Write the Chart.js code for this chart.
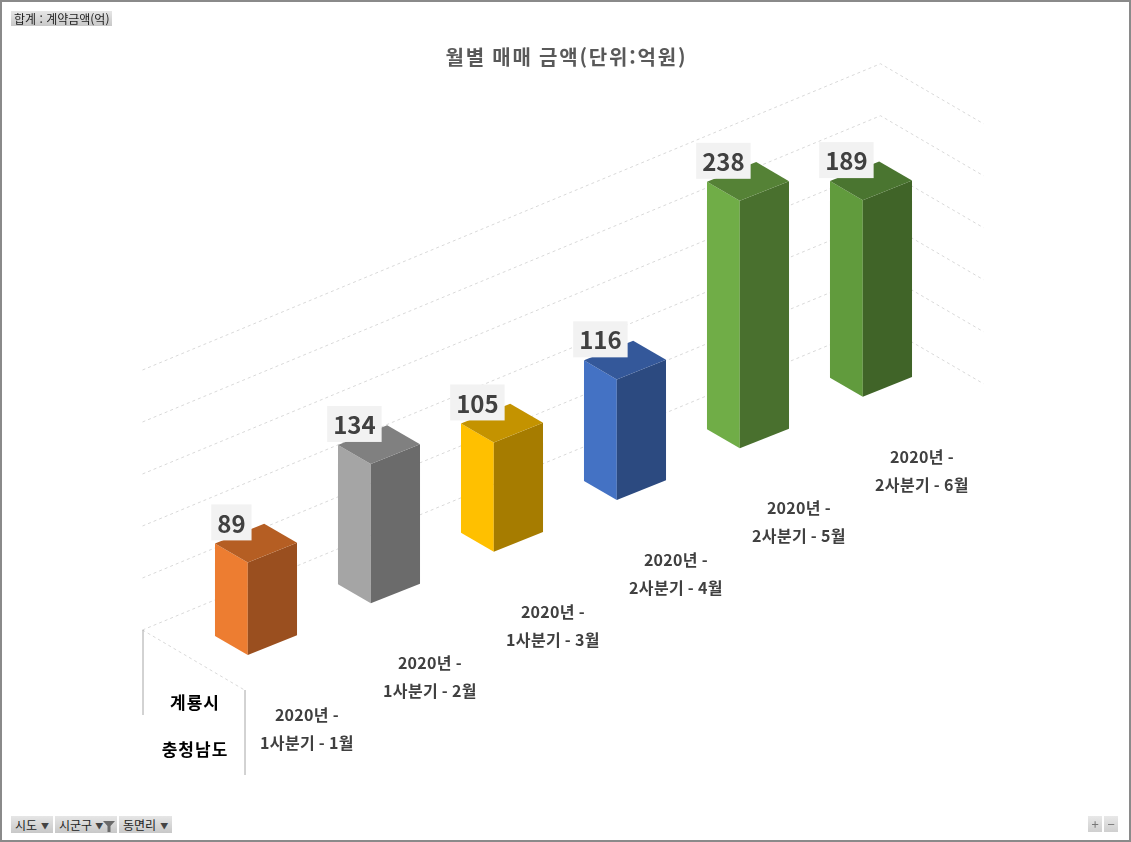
<!DOCTYPE html>
<html lang="ko">
<head>
<meta charset="utf-8">
<title>월별 매매 금액</title>
<script src="https://cdn.jsdelivr.net/npm/chart.js@4/dist/chart.umd.min.js"></script>
<style>
    html, body { margin: 0; padding: 0; background: #fff; }
    #frame {
        position: relative;
        width: 1131px;
        height: 842px;
        box-sizing: border-box;
        border: 2px solid #8a8a8a;
        overflow: hidden;
        font-family: "Noto Sans CJK KR", "Noto Sans", sans-serif;
    }
    #chart { position: absolute; left: -2px; top: -2px; }
    .btn {
        position: absolute;
        box-sizing: border-box;
        height: 17px;
        line-height: 17px;
        font-size: 12px;
        color: #222;
        background: linear-gradient(#e6e6e6, #c8c8c8);
        padding: 0 0 0 4px;
        white-space: nowrap;
    }
    .btn .arr { font-size: 8px; color: #444; margin-left: 4px; vertical-align: 1px; }
    .btn svg { vertical-align: -2px; }
    .zoom {
        position: absolute;
        top: 814px;
        width: 14px;
        height: 16px;
        line-height: 15px;
        text-align: center;
        font-size: 13px;
        color: #777;
        background: linear-gradient(#e8e8e8, #cfcfcf);
    }
</style>
</head>
<body>
<div id="frame">
    <canvas id="chart" width="1131" height="842"></canvas>
    <div class="btn" style="left:9px; top:9px; width:101px; height:15px; line-height:15px; padding-left:3px;">합계 : 계약금액(억)</div>
    <div class="btn" style="left:9px; top:814px; width:42px;">시도<span class="arr">▼</span></div>
    <div class="btn" style="left:53px; top:814px; width:62px;">시군구<span class="arr" style="margin-left:3px;">▼</span><svg width="12" height="11" viewBox="0 0 12 11"><path d="M0 0 H12 L7.5 5 V11 H4.5 V5 Z" fill="#6a6a6a"/></svg></div>
    <div class="btn" style="left:117px; top:814px; width:53px;">동면리<span class="arr">▼</span></div>
    <div class="zoom" style="left:1086px;">+</div>
    <div class="zoom" style="left:1102px;">&minus;</div>
</div>
<script>
// data
const rowLabels = ['계룡시', '충청남도'];
const categories = [
    ['2020년 -', '1사분기 - 1월'],
    ['2020년 -', '1사분기 - 2월'],
    ['2020년 -', '1사분기 - 3월'],
    ['2020년 -', '2사분기 - 4월'],
    ['2020년 -', '2사분기 - 5월'],
    ['2020년 -', '2사분기 - 6월']
];
const amounts = [89, 134, 105, 116, 238, 189];
const gridValues = [0, 50, 100, 150, 200, 250];
const chartTitle = '월별 매매 금액(단위:억원)';

// front / side / top faces of each column
const frontColors = ['#ED7D31', '#A5A5A5', '#FFC000', '#4472C4', '#70AD47', '#619B3D'];
const sideColors = ['#9A4F1F', '#6B6B6B', '#A67C00', '#2C4A80', '#49702E', '#406428'];
const topColors = ['#B55E23', '#808080', '#C49300', '#34589A', '#558236', '#4A7530'];

const FONT = '"Noto Sans CJK KR", "Noto Sans", sans-serif';
const ROW_SLOPE = 0.42;   // floor rises this much per pixel to the right
const WALL_SLOPE = 0.415;

const ctx = document.getElementById('chart').getContext('2d');

function spacedText(ctx, text, x, y, spacing) {
    ctx.letterSpacing = spacing + 'px';
    ctx.fillText(text, x + spacing / 2, y);
    ctx.letterSpacing = '0px';
}

const threeD = {
    id: 'threeD',
    beforeDatasetsDraw(chart) {
        const { ctx, chartArea, scales: { y } } = chart;
        const leftX = chartArea.left - 52;
        const apexX = chartArea.right - 52;
        const endX = apexX + 103;
        const y0 = y.getPixelForValue(0) - 25;

        ctx.save();
        // title
        ctx.fillStyle = '#595959';
        ctx.font = 'bold 20px ' + FONT;
        ctx.textAlign = 'center';
        ctx.textBaseline = 'middle';
        spacedText(ctx, chartTitle, (chartArea.left + chartArea.right) / 2 + 2, 57, 1.8);

        // back and side wall gridlines
        ctx.strokeStyle = '#d9d9d9';
        ctx.lineWidth = 1;
        ctx.setLineDash([3, 3]);
        gridValues.forEach(function (v) {
            const yl = y.getPixelForValue(v) - 25;
            const ya = yl - (apexX - leftX) * WALL_SLOPE;
            ctx.beginPath();
            ctx.moveTo(leftX, yl);
            ctx.lineTo(apexX, ya);
            ctx.lineTo(endX, ya + 60);
            ctx.stroke();
        });

        // front-left edge of the floor
        ctx.beginPath();
        ctx.moveTo(leftX, y0);
        ctx.lineTo(leftX + 102, y0 + 60);
        ctx.stroke();

        // row field dividers
        ctx.setLineDash([]);
        ctx.strokeStyle = '#a6a6a6';
        ctx.beginPath();
        ctx.moveTo(leftX + 0.5, y0);
        ctx.lineTo(leftX + 0.5, y0 + 85);
        ctx.moveTo(leftX + 102.5, y0 + 60);
        ctx.lineTo(leftX + 102.5, y0 + 145);
        ctx.stroke();

        ctx.fillStyle = '#000';
        ctx.font = 'bold 17px ' + FONT;
        spacedText(ctx, rowLabels[0], leftX + 52, y0 + 73, 1);
        spacedText(ctx, rowLabels[1], leftX + 52, y0 + 120, 1);
        ctx.restore();
    },
    afterDatasetsDraw(chart) {
        const { ctx } = chart;
        const bars = chart.getDatasetMeta(0).data;
        const mid0 = bars[0].x - bars[0].width / 2 + bars[0].width * 0.4;

        ctx.save();
        for (let i = bars.length - 1; i >= 0; i--) {
            const bar = bars[i];
            const w = bar.width;
            const left = bar.x - w / 2;
            const mid = left + w * 0.4;
            const right = left + w;
            const shift = (mid - mid0) * ROW_SLOPE;
            const top = bar.y - shift;
            const base = bar.base - shift;
            const dl = (mid - left) * 0.58;
            const dr = (right - mid) * 0.4;

            // front face
            ctx.fillStyle = frontColors[i];
            ctx.beginPath();
            ctx.moveTo(left, top - dl);
            ctx.lineTo(mid, top);
            ctx.lineTo(mid, base);
            ctx.lineTo(left, base - dl);
            ctx.closePath();
            ctx.fill();

            // side face
            ctx.fillStyle = sideColors[i];
            ctx.beginPath();
            ctx.moveTo(mid, top);
            ctx.lineTo(right, top - dr);
            ctx.lineTo(right, base - dr);
            ctx.lineTo(mid, base);
            ctx.closePath();
            ctx.fill();

            // top face
            ctx.fillStyle = topColors[i];
            ctx.beginPath();
            ctx.moveTo(left, top - dl);
            ctx.lineTo(mid, top);
            ctx.lineTo(right, top - dr);
            ctx.lineTo(left + (right - mid), top - dl - dr);
            ctx.closePath();
            ctx.fill();

            // value label
            const text = String(amounts[i]);
            ctx.font = 'bold 24px ' + FONT;
            const tw = ctx.measureText(text).width;
            const cx = (left + mid) / 2;
            const boxBottom = top - dl - 3;
            ctx.fillStyle = '#f2f2f2';
            ctx.fillRect(cx - tw / 2 - 6, boxBottom - 36, tw + 12, 36);
            ctx.fillStyle = '#404040';
            ctx.textAlign = 'center';
            ctx.textBaseline = 'middle';
            ctx.fillText(text, cx, boxBottom - 17);

            // category label under the column
            ctx.font = 'bold 16px ' + FONT;
            spacedText(ctx, categories[i][0], mid + 59, base + 60, 0.3);
            spacedText(ctx, categories[i][1], mid + 59, base + 88, 0.3);
        }
        ctx.restore();
    }
};

new Chart(ctx, {
    type: 'bar',
    data: {
        labels: categories,
        datasets: [{
            label: '합계 : 계약금액(억)',
            data: amounts,
            backgroundColor: 'rgba(0,0,0,0)',
            categoryPercentage: 1,
            barPercentage: 0.667
        }]
    },
    options: {
        responsive: false,
        animation: false,
        layout: {
            padding: { left: 194.5, right: 198.5, top: 135, bottom: 187 }
        },
        plugins: {
            legend: { display: false },
            tooltip: { enabled: false },
            title: { display: false }
        },
        scales: {
            x: { display: false },
            y: { display: false, min: 0, max: 500 }
        }
    },
    plugins: [threeD]
});
</script>
</body>
</html>
